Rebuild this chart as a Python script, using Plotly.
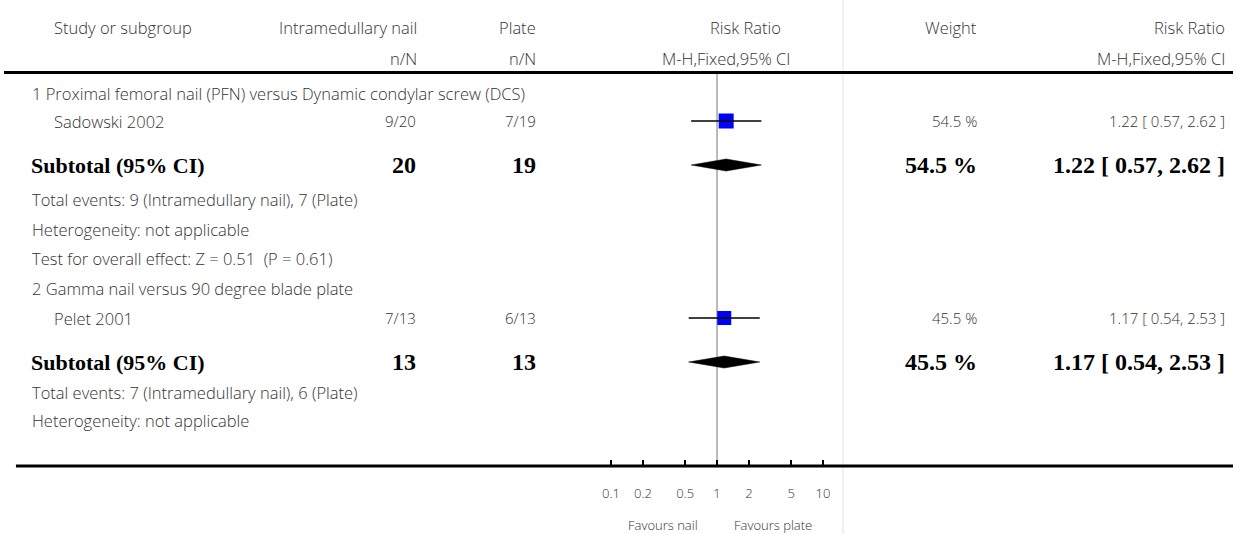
import plotly.graph_objects as go

W, H = 1235, 534

# ---------------- data ----------------
group_titles = ["1 Proximal femoral nail (PFN) versus Dynamic condylar screw (DCS)",
                "2 Gamma nail versus 90 degree blade plate"]
studies = ["Sadowski 2002", "Pelet 2001"]
nail_events = [9, 7]
nail_total = [20, 13]
plate_events = [7, 6]
plate_total = [19, 13]
study_rr = [1.22, 1.17]
study_lo = [0.57, 0.54]
study_hi = [2.62, 2.53]
weights = [54.5, 45.5]
sub_rr = [1.22, 1.17]
sub_lo = [0.57, 0.54]
sub_hi = [2.62, 2.53]
total_events_text = ["Total events: 9 (Intramedullary nail), 7 (Plate)",
                     "Total events: 7 (Intramedullary nail), 6 (Plate)"]
heterogeneity_text = ["Heterogeneity: not applicable", "Heterogeneity: not applicable"]
overall_effect_text = ["Test for overall effect: Z = 0.51  (P = 0.61)", None]
tick_vals = [0.1, 0.2, 0.5, 1, 2, 5, 10]
tick_text = ["0.1", "0.2", "0.5", "1", "2", "5", "10"]
favours_left = "Favours nail"
favours_right = "Favours plate"

# ---------------- layout (pixel rows) ----------------
rows = [
    dict(title=94, study=121, sub=165, total=199, het=229, test=258),
    dict(title=288, study=318, sub=362, total=392, het=420, test=None),
]
AXIS_Y = 466
SANS = "Open Sans"
SERIF = "Liberation Serif"
TXT = "#333"
FS = 16.5    # word text
NS = 15      # numeric text
BS = 22      # bold subtotal label
BN = 24      # bold subtotal numbers

fig = go.Figure()
ann = []


def txt(s, x, y, anchor="left", size=FS, family=SANS, bold=False, color=TXT):
    ann.append(dict(text=s, x=x / W, y=1 - y / H, xref="paper", yref="paper",
                    xanchor=anchor, yanchor="middle", showarrow=False,
                    font=dict(family=family, size=size, color=color,
                              weight="bold" if bold else 300)))


# vertical line of no effect
fig.add_trace(go.Scatter(x=[1, 1], y=[73, AXIS_Y], mode="lines",
                         line=dict(color="#777", width=1), hoverinfo="skip"))

for g in range(2):
    r = rows[g]
    fig.add_trace(go.Scatter(x=[study_rr[g]], y=[r["study"]], mode="markers",
                             marker=dict(symbol="square", size=15 if g == 0 else 14,
                                         color="#0000ff", line=dict(width=0))))
    fig.add_trace(go.Scatter(x=[study_lo[g], study_hi[g]], y=[r["study"], r["study"]],
                             mode="lines", line=dict(color="black", width=1.5)))
    fig.add_trace(go.Scatter(x=[study_rr[g]], y=[r["study"]], mode="markers",
                             marker=dict(symbol="line-ns", size=4,
                                         line=dict(width=1, color="#222"))))
    ys = r["sub"]
    fig.add_trace(go.Scatter(x=[sub_lo[g], sub_rr[g], sub_hi[g], sub_rr[g], sub_lo[g]],
                             y=[ys, ys - 6, ys, ys + 6, ys], mode="lines",
                             fill="toself", fillcolor="black",
                             line=dict(color="black", width=0.5)))

    txt(group_titles[g], 26, r["title"])
    txt(studies[g], 48, r["study"])
    txt(f"{nail_events[g]}/{nail_total[g]}", 416, r["study"], "right", size=NS)
    txt(f"{plate_events[g]}/{plate_total[g]}", 537, r["study"], "right", size=NS)
    txt(f"{weights[g]} %", 980, r["study"], "right", size=NS)
    txt(f"{study_rr[g]:.2f} [ {study_lo[g]:.2f}, {study_hi[g]:.2f} ]", 1229, r["study"], "right",
        size=NS)

    txt("Subtotal (95% CI)", 25, r["sub"], size=BS, family=SERIF, bold=True, color="black")
    txt(f"{nail_total[g]}", 416, r["sub"], "right", size=BN, family=SERIF, bold=True, color="black")
    txt(f"{plate_total[g]}", 537, r["sub"], "right", size=BN, family=SERIF, bold=True, color="black")
    txt(f"{weights[g]} %", 980, r["sub"], "right", size=BN, family=SERIF, bold=True, color="black")
    txt(f"{sub_rr[g]:.2f} [ {sub_lo[g]:.2f}, {sub_hi[g]:.2f} ]", 1229, r["sub"], "right",
        size=BN, family=SERIF, bold=True, color="black")

    txt(total_events_text[g], 26, r["total"])
    txt(heterogeneity_text[g], 26, r["het"])
    if overall_effect_text[g] and r["test"]:
        txt(overall_effect_text[g], 26, r["test"])

txt("Study or subgroup", 48, 27)
txt("Intramedullary nail", 417, 27, "right")
txt("n/N", 417, 58, "right")
txt("Plate", 537, 27, "right")
txt("n/N", 537, 58, "right")
txt("Risk Ratio", 745, 27, "center")
txt("M-H,Fixed,95% CI", 726, 58, "center")
txt("Weight", 980, 27, "right")
txt("Risk Ratio", 1229, 27, "right")
txt("M-H,Fixed,95% CI", 1229, 58, "right")

txt(favours_left, 699, 525, "right", size=13)
txt(favours_right, 732, 525, "left", size=13)

shapes = [
    dict(type="line", xref="paper", yref="paper", x0=0, x1=1,
         y0=1 - 72.5 / H, y1=1 - 72.5 / H, line=dict(color="black", width=3)),
    dict(type="line", xref="paper", yref="paper", x0=12 / W, x1=1,
         y0=1 - AXIS_Y / H, y1=1 - AXIS_Y / H, line=dict(color="black", width=3)),
    dict(type="line", xref="paper", yref="paper", x0=843 / W, x1=843 / W,
         y0=0, y1=1, line=dict(color="#e3e3e3", width=1), layer="below"),
]

fig.update_layout(
    width=W, height=H, margin=dict(l=0, r=0, t=0, b=0),
    paper_bgcolor="white", plot_bgcolor="rgba(0,0,0,0)",
    showlegend=False, annotations=ann, shapes=shapes,
    xaxis=dict(type="log", range=[-1.05, 1.05],
               domain=[(610 - 0.05 * 106.5) / W, (823 + 0.05 * 106.5) / W],
               tickvals=tick_vals, ticktext=tick_text, ticks="inside",
               ticklen=6, tickwidth=2, tickcolor="black",
               showgrid=False, zeroline=False, showline=False,
               tickfont=dict(family=SANS, size=13, color=TXT, weight=300),
               ticklabelstandoff=18, fixedrange=True),
    yaxis=dict(range=[AXIS_Y, 0], domain=[1 - AXIS_Y / H, 1], visible=False,
               fixedrange=True),
)

fig.write_html("out.html", config={"displayModeBar": False},
               post_script="document.body.style.margin='0';document.body.style.overflow='hidden';")
